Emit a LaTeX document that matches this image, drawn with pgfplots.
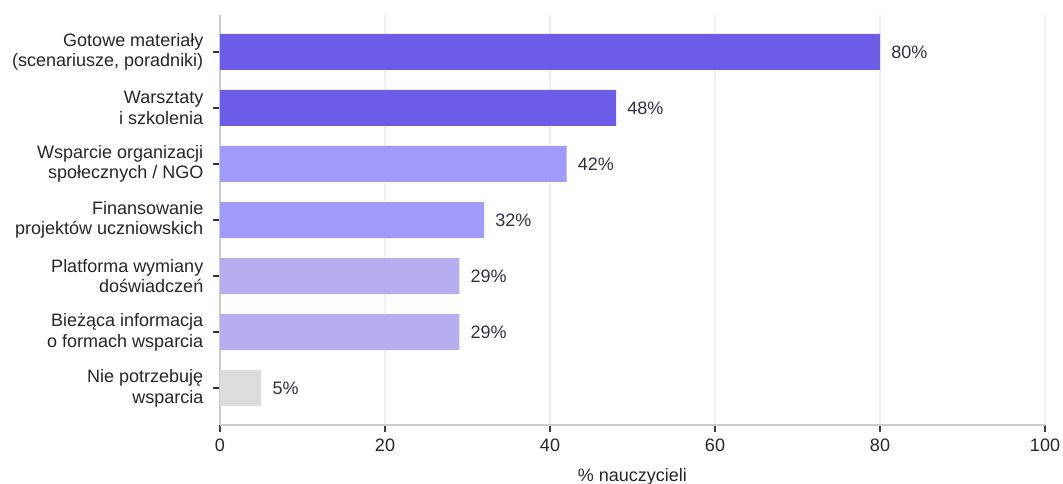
\documentclass[border=0pt]{standalone}
\usepackage{fontspec}
\setmainfont{Liberation Sans}
\usepackage{pgfplots}
\pgfplotsset{compat=1.18}
\definecolor{cA}{HTML}{6C5CE7}
\definecolor{cB}{HTML}{A29BFE}
\definecolor{cC}{HTML}{B7AEF0}
\definecolor{cD}{HTML}{DCDCDC}
\definecolor{valc}{HTML}{2D3142}
\definecolor{axc}{HTML}{CCCCCC}
\definecolor{gridc}{HTML}{F0F0F0}
\begin{document}
\begin{tikzpicture}
\begin{axis}[
  at={(165pt,44.25pt)}, anchor=south west,
  scale only axis, width=618.75pt, height=307.5pt,
  bar width=27pt,
  xmin=0, xmax=100, ymin=-0.66, ymax=6.66, y dir=reverse,
  axis x line*=bottom, axis y line*=left,
  axis line style={axc, line width=0.9pt},
  ytick={0,...,6},
  yticklabels={{Gotowe materiały\\(scenariusze, poradniki)},{Warsztaty\\i szkolenia},{Wsparcie organizacji\\społecznych / NGO},{Finansowanie\\projektów uczniowskich},{Platforma wymiany\\doświadczeń},{Bieżąca informacja\\o formach wsparcia},{Nie potrzebuję\\wsparcia}},
  yticklabel style={align=right, font=\fontsize{13.5}{15.5}\selectfont, text=black!85, xshift=-4pt},
  xtick={0,20,...,100},
  xticklabel style={font=\fontsize{13.5}{15}\selectfont, text=black!85, yshift=-2pt},
  /pgf/number format/assume math mode=true,
  xtick align=outside, ytick align=outside,
  xtick pos=bottom, ytick pos=left,
  major tick length=5pt,
  every tick/.append style={draw=black!80, line width=0.8pt},
  xtick style={draw=black!75, line width=0.8pt},
  ytick style={draw=black!80, line width=0.8pt},
  xmajorgrids, grid style={gridc, line width=0.8pt},
  xlabel={\% nauczycieli},
  xlabel style={font=\fontsize{13.5}{15}\selectfont, text=black!85, yshift=-6pt},
  nodes near coords={\pgfmathprintnumber\pgfplotspointmeta\%},
  nodes near coords align={horizontal},
  point meta=x,
  every node near coord/.append style={font=\fontsize{13.5}{15}\selectfont, text=valc, xshift=5pt, anchor=west},
  clip=false,
]
\addplot[xbar, bar shift=0pt, draw=none, fill=cA] coordinates {(80,0) (48,1)};
\addplot[xbar, bar shift=0pt, draw=none, fill=cB] coordinates {(42,2) (32,3)};
\addplot[xbar, bar shift=0pt, draw=none, fill=cC] coordinates {(29,4) (29,5)};
\addplot[xbar, bar shift=0pt, draw=none, fill=cD] coordinates {(5,6)};
\end{axis}
\pgfresetboundingbox
\path[use as bounding box] (0,0) rectangle (797.25pt,363pt);
\end{tikzpicture}
\end{document}
